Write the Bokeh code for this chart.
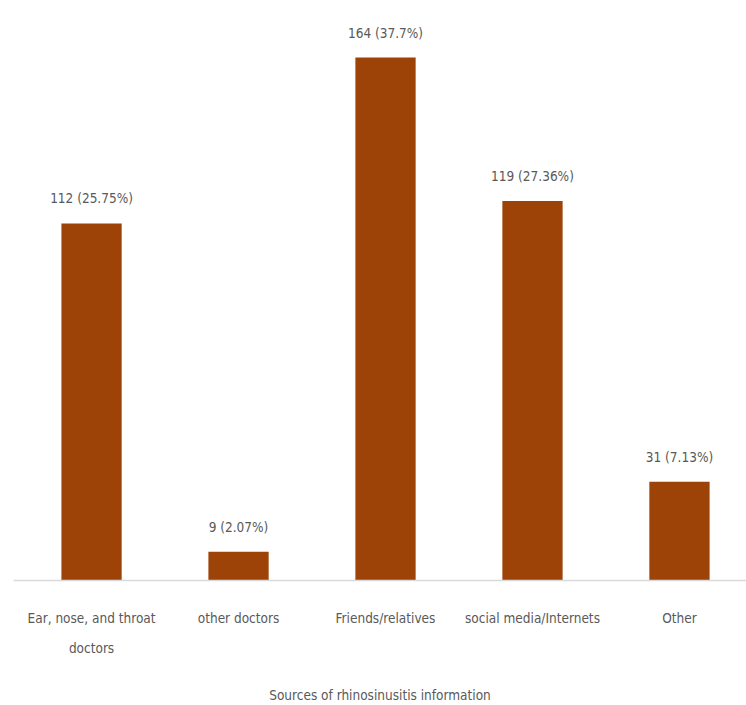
from bokeh.plotting import figure
from bokeh.models import ColumnDataSource, Range1d, FixedTicker, LinearAxis
from bokeh.core.properties import value
from bokeh.embed import file_html
from bokeh.resources import INLINE

categories = ["Ear, nose, and throat", "other doctors", "Friends/relatives",
              "social media/Internets", "Other"]
second_line = ["doctors", "", "", "", ""]
counts = [112, 9, 164, 119, 31]
percents = ["25.75%", "2.07%", "37.7%", "27.36%", "7.13%"]

FONT = "DejaVu Sans Condensed"
GREY = "#595959"
FS = "13.5px"

xs = list(range(len(categories)))
labels = [f"{c} ({p})" for c, p in zip(counts, percents)]
src = ColumnDataSource(dict(x=xs, top=counts, label=labels))

p = figure(width=746, height=705, output_backend="svg", toolbar_location=None,
           x_range=Range1d(-0.531, 4.456), y_range=Range1d(0, 181.9),
           min_border_left=13, min_border_right=0, min_border_top=0, min_border_bottom=125)
p.outline_line_color = None
p.background_fill_color = "white"
p.border_fill_color = "white"

p.vbar(x="x", top="top", width=0.41, source=src, fill_color="#9E4308", line_color=None)
p.text(x="x", y="top", text="label", source=src, text_align="center",
       text_baseline="middle", y_offset=-25, text_font=value(FONT),
       text_font_size=FS, text_color=GREY)

p.yaxis.visible = False
p.grid.visible = False
ax = p.xaxis[0]
ax.ticker = FixedTicker(ticks=xs)
ax.major_label_overrides = {i: c for i, c in enumerate(categories)}
ax.major_tick_line_color = None
ax.minor_tick_line_color = None
ax.axis_line_color = "#d9d9d9"
ax.axis_line_width = 1.5
ax.major_label_text_font = FONT
ax.major_label_text_font_size = FS
ax.major_label_text_color = GREY
ax.major_label_standoff = 23

ax2 = LinearAxis(ticker=FixedTicker(ticks=[i for i, t in enumerate(second_line) if t]),
                 major_label_overrides={i: t for i, t in enumerate(second_line) if t})
ax2.axis_line_color = None
ax2.major_tick_line_color = None
ax2.minor_tick_line_color = None
ax2.major_label_text_font = FONT
ax2.major_label_text_font_size = FS
ax2.major_label_text_color = GREY
ax2.major_label_standoff = 5
ax2.axis_label = "Sources of rhinosinusitis information"
ax2.axis_label_text_font = FONT
ax2.axis_label_text_font_size = FS
ax2.axis_label_text_font_style = "normal"
ax2.axis_label_text_color = GREY
ax2.axis_label_standoff = 28
p.add_layout(ax2, "below")

open("out.html", "w").write(file_html(p, INLINE))
